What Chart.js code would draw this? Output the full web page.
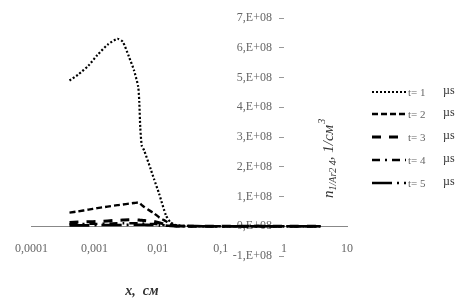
<!DOCTYPE html>
<html>
<head>
<meta charset="utf-8">
<script src="https://cdn.jsdelivr.net/npm/chart.js@4.4.1/dist/chart.umd.min.js"></script>
<style>
    html, body { margin: 0; padding: 0; background: #fff; }
    #wrap { width: 468px; height: 304px; }
</style>
</head>
<body>
<div id="wrap"><canvas id="myChart"></canvas></div>
<script>
// x, cm (shared by all series)
const xCm = [0.0004, 0.00055, 0.0008, 0.0011, 0.0016, 0.0023, 0.0028, 0.0035, 0.0042, 0.0049,
    0.0051, 0.0053, 0.0056, 0.0061, 0.0078, 0.0087, 0.0105, 0.0135, 0.016, 0.02,
    0.03, 0.1, 0.5, 1, 4];

// n, units of 1E+08 1/cm^3
const t1 = [4.9, 5.1, 5.4, 5.75, 6.1, 6.3, 6.2, 5.7, 5.25, 4.7,
    4.2, 3.3, 2.7, 2.55, 1.9, 1.6, 1.1, 0.37, 0.13, 0.03,
    0.01, 0, 0, 0, 0];
const t2 = [0.46, 0.5, 0.56, 0.61, 0.66, 0.71, 0.73, 0.76, 0.78, 0.8,
    0.79, 0.76, 0.71, 0.65, 0.5, 0.44, 0.3, 0.17, 0.08, 0.02,
    0.01, 0, 0, 0, 0];
const t3 = [0.13, 0.14, 0.15, 0.16, 0.18, 0.2, 0.21, 0.22, 0.22, 0.21,
    0.21, 0.2, 0.2, 0.19, 0.17, 0.16, 0.12, 0.06, 0.03, 0.01,
    0, 0, 0, 0, 0];
const t4 = [0.07, 0.07, 0.08, 0.08, 0.09, 0.1, 0.1, 0.1, 0.1, 0.1,
    0.1, 0.1, 0.1, 0.09, 0.08, 0.08, 0.06, 0.03, 0.02, 0.01,
    0, 0, 0, 0, 0];
const t5 = [0.03, 0.03, 0.03, 0.04, 0.04, 0.04, 0.04, 0.05, 0.05, 0.05,
    0.05, 0.05, 0.05, 0.05, 0.04, 0.04, 0.03, 0.02, 0.01, 0,
    0, 0, 0, 0, 0];

const legendLabels = ['t= 1', 't= 2', 't= 3', 't= 4', 't= 5'];
const legendUnit = 'µs';
const xTickValues = [0.0001, 0.001, 0.01, 0.1, 1, 10];
const xTickLabels = ['0,0001', '0,001', '0,01', '0,1', '1', '10'];
const yTickLabels = ['-1,E+08', '0,E+08', '1,E+08', '2,E+08', '3,E+08', '4,E+08', '5,E+08', '6,E+08', '7,E+08'];

const series = [t1, t2, t3, t4, t5];
const dashes = [[2, 2], [6, 3], [9, 8], [8, 5, 2, 5], [20, 5, 2, 5]];
const widths = [2.2, 2.4, 3, 2.4, 2.6];

function toPoints(values){
    return values.map(function(v, i){
        return {x: xCm[i], y: v * 1e8};
    });
}

// legend + axis titles, drawn on top
const annotations = {
    id: 'annotations',
    afterDraw: function(chart){
        let ctx = chart.ctx;
        ctx.save();

        // legend
        let ly = [92, 114, 137, 160, 183];
        chart.data.datasets.forEach(function(ds, i){
            ctx.beginPath();
            ctx.setLineDash(ds.borderDash);
            ctx.lineWidth = ds.borderWidth;
            ctx.strokeStyle = '#000';
            ctx.moveTo(372, ly[i]);
            ctx.lineTo(406, ly[i]);
            ctx.stroke();
            ctx.setLineDash([]);
            ctx.fillStyle = '#666';
            ctx.font = '11px "Liberation Serif"';
            ctx.textBaseline = 'middle';
            ctx.textAlign = 'left';
            ctx.fillText(legendLabels[i], 408, ly[i] + 1);
            ctx.fillStyle = '#333';
            ctx.font = '12px "Liberation Serif"';
            ctx.fillText(legendUnit, 443, ly[i] - 1);
        });

        // x title
        ctx.fillStyle = '#333';
        ctx.font = 'italic bold 14px "Liberation Serif"';
        ctx.textAlign = 'center';
        ctx.textBaseline = 'alphabetic';
        ctx.fillText('x,  см', 142, 295);

        // y title, rotated
        ctx.translate(333, 198);
        ctx.rotate(-Math.PI / 2);
        ctx.textAlign = 'left';
        let x = 0;
        ctx.font = 'italic 15px "Liberation Serif"';
        ctx.fillText('n', x, 0);
        x += ctx.measureText('n').width;
        ctx.font = 'italic 10px "Liberation Serif"';
        ctx.fillText('1/Ar2 4', x, 3);
        x += ctx.measureText('1/Ar2 4').width;
        ctx.font = 'italic 15px "Liberation Serif"';
        ctx.fillText(', 1/см', x, 0);
        x += ctx.measureText(', 1/см').width;
        ctx.font = 'italic 10px "Liberation Serif"';
        ctx.fillText('3', x + 1, -8);

        ctx.restore();
    }
};

new Chart(document.getElementById('myChart'), {
    type: 'line',
    data: {
        datasets: series.map(function(s, i){
            return {
                label: legendLabels[i],
                data: toPoints(s),
                borderColor: '#000',
                borderWidth: widths[i],
                borderDash: dashes[i],
                pointRadius: 0,
                fill: false,
                tension: 0.2
            };
        })
    },
    options: {
        responsive: true,
        maintainAspectRatio: false,
        animation: false,
        layout: {
            padding: {left: 30, right: 121, top: 18, bottom: 48}
        },
        plugins: {
            legend: {display: false},
            tooltip: {enabled: false}
        },
        scales: {
            x: {
                type: 'logarithmic',
                min: 0.0001,
                max: 10,
                position: {y: 0},
                afterFit: function(scale){ scale.height = 0; },
                afterBuildTicks: function(scale){
                    scale.ticks = xTickValues.map(function(v){ return {value: v}; });
                },
                grid: {drawOnChartArea: false, drawTicks: false},
                border: {display: true, color: '#888', width: 1},
                ticks: {
                    autoSkip: false,
                    maxRotation: 0,
                    padding: 15,
                    color: '#666',
                    font: {family: 'Liberation Serif', size: 12},
                    callback: function(value, index){ return xTickLabels[index]; }
                }
            },
            y: {
                type: 'linear',
                min: -1e8,
                max: 7e8,
                position: {x: 1},
                afterFit: function(scale){ scale.width = 0; },
                grid: {drawOnChartArea: false, drawTicks: true, tickLength: 5, color: '#999'},
                border: {display: false},
                ticks: {
                    stepSize: 1e8,
                    padding: 6,
                    color: '#666',
                    font: {family: 'Liberation Serif', size: 12},
                    // trailing gap keeps the label clear of the tick mark
                    callback: function(value, index){ return yTickLabels[index] + '    '; }
                }
            }
        }
    },
    plugins: [annotations]
});
</script>
</body>
</html>
